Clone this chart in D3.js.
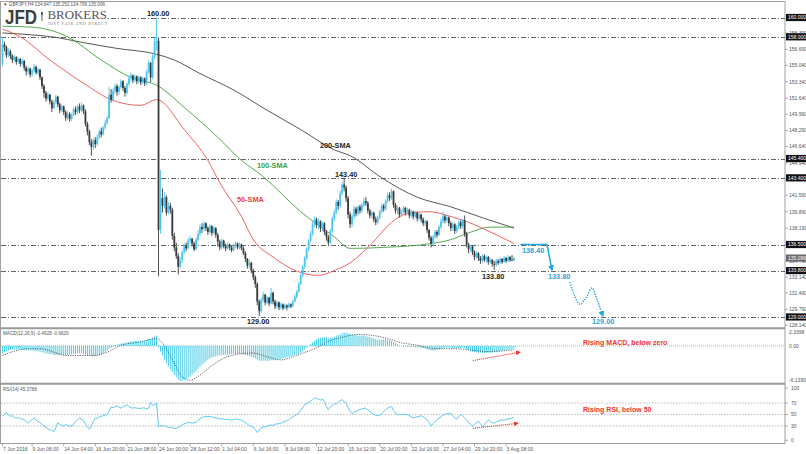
<!DOCTYPE html>
<html><head><meta charset="utf-8">
<script src="https://cdn.jsdelivr.net/npm/d3@7"></script>
<style>body{margin:0;background:#fff;} svg{display:block;font-family:"Liberation Sans",Arial,sans-serif;}</style>
</head><body><svg id="c" width="806" height="454"></svg>
<script>
// ---------- DATA ----------
const symbolHeader = "\u25BC GBPJPY,H4  134.847 135.252 134.799 135.096";
const firstOpen = 155.2;
const closes = [
157.2,156.9,156.1,156.5,156.0,155.6,155.9,155.4,155.7,155.2,
155.5,154.8,154.4,154.7,154.1,154.5,154.9,154.3,154.6,153.8,
152.9,152.2,151.6,152.0,151.3,150.6,151.2,151.8,151.0,150.4,
150.8,150.2,149.6,150.0,149.5,149.9,150.5,150.2,150.8,150.4,
150.9,150.3,149.0,148.2,147.1,146.6,147.3,146.9,147.6,148.2,
147.9,148.6,149.1,149.6,152.0,151.5,152.4,152.9,152.3,152.8,
153.4,152.7,152.2,153.1,153.7,154.0,153.5,153.9,153.4,153.8,
153.3,153.7,153.2,154.4,155.3,153.8,155.9,157.5,157.6,138.0,
141.3,140.5,141.4,139.8,140.5,140.1,137.4,136.2,135.3,134.2,
134.9,135.7,136.4,136.1,136.9,137.1,136.6,136.0,137.0,137.6,
138.3,138.1,138.7,138.2,137.8,138.4,137.7,138.2,137.5,136.8,
136.2,136.9,136.4,136.1,136.5,136.2,135.9,136.4,136.6,136.2,
136.5,136.1,135.6,135.0,134.3,134.6,133.8,133.1,132.4,130.6,
129.6,130.8,131.3,130.5,131.0,130.4,131.5,130.6,130.1,130.5,
130.0,130.3,129.9,130.2,130.0,130.3,130.1,130.6,131.1,131.6,
132.4,133.3,134.2,135.1,136.0,136.9,137.6,138.6,139.1,138.5,
138.9,138.2,138.7,137.8,137.3,136.7,137.9,139.2,139.8,140.9,
140.5,141.8,142.7,142.4,141.3,139.6,138.6,139.4,140.2,139.7,
140.4,140.0,140.6,141.0,140.8,140.0,139.5,139.8,139.1,138.8,
139.3,139.9,140.5,140.2,141.0,141.6,141.3,142.0,140.6,140.0,
140.3,139.6,139.9,140.3,139.8,140.1,139.5,139.9,139.4,139.8,
139.2,139.6,139.1,138.7,138.9,138.0,137.2,136.6,137.3,137.8,
137.5,138.3,138.9,139.4,139.0,139.3,138.7,138.2,138.6,137.9,
138.3,138.8,138.4,139.0,137.6,136.5,136.0,136.3,135.7,135.2,
135.6,135.1,134.8,135.3,134.9,135.2,134.7,134.9,134.5,134.4,
134.8,134.6,135.0,134.7,135.1,134.8,135.2,134.9,134.85,135.1];
const highs = [
158.0,157.5,157.1,156.8,156.7,156.2,156.1,156.0,155.9,155.8,
155.7,155.6,155.0,154.9,154.8,154.7,155.2,155.0,154.8,154.7,
153.9,153.1,152.4,152.3,152.1,151.5,151.5,152.0,151.9,151.2,
151.0,150.9,150.4,150.3,150.2,150.1,150.7,150.8,151.0,151.1,
151.2,151.0,150.5,149.2,148.4,147.4,147.5,147.6,147.9,148.4,
148.6,148.8,149.4,149.8,152.8,152.6,152.7,153.2,153.1,153.0,
153.6,153.5,152.9,153.3,154.0,154.3,154.1,154.1,154.0,154.0,
153.9,153.9,153.8,154.6,155.6,155.4,156.2,158.0,160.0,157.9,
144.2,142.3,141.9,141.6,140.9,140.8,140.3,137.7,136.7,135.6,
135.2,135.9,136.6,136.7,137.2,137.4,137.2,136.8,137.2,138.0,
138.6,138.7,138.9,138.8,138.4,138.6,138.5,138.4,138.3,137.7,
137.0,137.1,137.0,136.6,136.7,136.6,136.4,136.6,136.8,136.7,
136.7,136.6,136.3,135.8,135.1,134.9,134.7,134.0,133.3,132.6,
130.8,131.0,131.6,131.4,131.2,131.1,132.0,131.6,130.8,130.7,
130.6,130.5,130.4,130.4,130.3,130.5,130.4,130.8,131.3,131.8,
132.6,133.5,134.4,135.3,136.2,137.1,137.9,138.9,139.4,139.3,
139.2,139.0,138.9,138.8,138.0,137.5,138.1,139.4,140.1,141.2,
141.1,142.1,143.0,143.4,142.6,141.5,139.9,139.7,140.5,140.4,
140.6,140.6,140.8,141.3,141.4,141.0,140.2,140.0,139.9,139.4,
139.5,140.1,140.8,140.7,141.2,141.9,141.9,142.3,142.1,140.8,
140.5,140.4,140.1,140.5,140.4,140.3,140.2,140.1,140.0,140.0,
139.9,139.8,139.7,139.3,139.1,139.0,138.1,137.4,137.5,138.0,
138.0,138.5,139.2,139.9,139.6,139.5,139.4,138.9,138.8,138.7,
138.5,139.0,139.0,139.2,139.5,137.8,136.7,136.5,136.4,135.9,
135.8,135.7,135.3,135.5,135.5,135.4,135.3,135.1,135.0,134.8,
135.0,135.0,135.2,135.1,135.3,135.2,135.4,135.3,135.4,135.25];
const lows = [
154.9,156.5,155.8,155.9,155.7,155.3,155.4,155.1,155.2,154.9,
155.0,154.5,154.0,154.1,153.8,153.9,154.3,154.1,154.0,153.5,
152.6,151.7,151.3,151.4,151.0,150.2,150.5,151.0,150.7,150.1,
150.2,149.9,149.3,149.4,149.2,149.3,149.8,149.9,150.0,150.1,
150.2,150.0,148.7,147.8,146.8,145.7,146.3,146.5,146.7,147.4,
147.6,147.8,148.4,148.9,149.5,151.2,151.3,152.1,151.9,152.0,
152.6,152.4,151.8,152.0,152.9,153.4,153.2,153.3,153.1,153.2,
153.0,153.1,152.9,153.0,154.2,153.3,153.6,155.7,156.6,133.2,
137.6,139.8,140.2,139.5,139.6,139.7,137.0,135.8,135.0,133.4,
134.0,134.6,135.5,135.8,136.0,136.6,136.3,135.8,135.9,136.8,
137.4,137.7,137.9,137.9,137.5,137.6,137.4,137.5,137.2,136.3,
135.9,136.0,136.1,135.8,136.0,135.9,135.7,135.8,136.1,136.0,
136.0,135.9,135.4,134.7,134.0,134.0,133.5,132.8,132.0,130.2,
129.1,129.4,130.5,130.2,130.3,130.1,130.3,130.3,129.8,129.9,
129.7,129.8,129.7,129.8,129.7,129.9,129.9,130.0,130.5,130.9,
131.5,132.3,133.1,134.0,134.9,135.8,136.7,137.4,138.3,138.2,
138.1,137.8,137.9,137.5,136.9,136.4,136.5,137.7,138.9,139.6,
140.1,140.3,141.6,142.0,140.9,139.2,138.2,138.3,139.1,139.4,
139.5,139.7,139.8,140.4,140.5,139.7,139.2,139.2,138.8,138.5,
138.6,139.1,139.7,139.9,140.0,140.8,141.0,141.1,140.3,139.7,
139.6,139.3,139.4,139.7,139.5,139.6,139.2,139.3,139.1,139.2,
138.9,139.0,138.8,138.4,138.4,137.7,136.9,136.2,136.4,137.1,
137.2,137.4,138.1,138.7,138.7,138.8,138.4,137.9,137.9,137.6,
137.7,138.1,138.1,138.2,137.3,136.2,135.6,135.7,135.4,134.9,
135.0,134.8,134.5,134.6,134.7,134.6,134.4,134.5,134.2,133.85,
134.2,134.4,134.5,134.5,134.6,134.6,134.7,134.7,134.8,134.8];

// Moving averages (bar index, price)
const sma200Idx = [0,15,25,41,58,78,87,100,117,134,151,168,176,192,210,227,244,259];
const sma200Val = [158.4,158.2,158.0,157.4,156.8,156.2,155.6,154.2,152.5,150.4,148.4,146.3,145.7,143.4,141.4,140.4,139.2,138.2];
const sma100Idx = [0,15,33,50,66,78,92,109,121,131,151,168,176,193,217,227,236,247,259];
const sma100Val = [159.1,159.0,158.0,155.6,153.7,153.0,150.7,147.6,145.2,143.7,139.9,137.3,136.1,136.2,136.6,137.0,137.7,138.3,138.3];
const sma50Idx = [0,9,24,41,55,70,78,92,104,110,121,127,137,151,160,168,176,187,197,205,216,227,236,248,259];
const sma50Val = [158.8,158.0,155.6,153.2,151.5,150.9,151.5,148.4,145.2,142.9,139.4,137.0,135.2,133.6,133.3,133.8,134.6,136.6,138.8,139.7,139.9,139.4,138.8,137.7,136.6];

// MACD(12,26,9) main per bar and signal samples
const macdMain = [
-1.3,-1.1,-0.9,-0.8,-0.7,-0.7,-0.6,-0.6,-0.6,-0.6,
-0.7,-0.7,-0.8,-0.8,-0.8,-0.8,-0.8,-0.9,-0.9,-1.0,
-1.1,-1.2,-1.3,-1.4,-1.4,-1.5,-1.6,-1.6,-1.6,-1.6,
-1.6,-1.6,-1.6,-1.6,-1.5,-1.5,-1.4,-1.4,-1.3,-1.3,
-1.3,-1.4,-1.5,-1.6,-1.7,-1.8,-1.8,-1.8,-1.7,-1.6,
-1.5,-1.3,-1.1,-0.9,-0.5,-0.3,-0.1,0.1,0.2,0.3,
0.4,0.5,0.5,0.6,0.7,0.8,0.8,0.9,0.9,0.9,
0.9,0.9,0.9,1.0,1.2,1.2,1.4,1.6,1.8,-0.3,
-1.0,-1.7,-2.4,-3.0,-3.6,-4.1,-4.6,-5.1,-5.5,-5.9,
-6.1,-6.1,-6.0,-5.8,-5.6,-5.3,-5.0,-4.7,-4.4,-4.0,
-3.6,-3.3,-3.0,-2.7,-2.4,-2.2,-2.0,-1.9,-1.8,-1.7,
-1.7,-1.6,-1.6,-1.5,-1.5,-1.5,-1.4,-1.4,-1.4,-1.4,
-1.4,-1.4,-1.5,-1.6,-1.7,-1.8,-1.9,-2.0,-2.2,-2.4,
-2.6,-2.6,-2.6,-2.6,-2.6,-2.6,-2.5,-2.5,-2.5,-2.4,
-2.4,-2.3,-2.2,-2.1,-2.0,-1.9,-1.8,-1.7,-1.6,-1.5,
-1.4,-1.2,-0.9,-0.6,-0.3,0.0,0.3,0.6,0.9,1.1,
1.3,1.4,1.5,1.5,1.5,1.4,1.4,1.5,1.6,1.8,
1.9,2.0,2.2,2.3,2.3,2.2,2.1,2.0,1.9,1.9,
1.8,1.8,1.8,1.8,1.7,1.6,1.5,1.4,1.3,1.2,
1.1,1.1,1.1,1.1,1.2,1.1,1.0,0.9,0.7,0.5,
0.3,0.1,0.0,-0.1,-0.1,-0.2,-0.2,-0.2,-0.2,-0.3,
-0.3,-0.3,-0.4,-0.4,-0.5,-0.6,-0.7,-0.8,-0.8,-0.8,
-0.7,-0.6,-0.5,-0.4,-0.3,-0.3,-0.3,-0.3,-0.4,-0.4,
-0.4,-0.4,-0.4,-0.3,-0.4,-0.6,-0.8,-0.9,-1.0,-1.1,
-1.1,-1.2,-1.2,-1.2,-1.2,-1.2,-1.2,-1.2,-1.2,-1.1,
-1.1,-1.0,-0.9,-0.8,-0.8,-0.7,-0.7,-0.6,-0.55,-0.49];
const signalIdx = [0,13,19,33,46,53,60,70,78,81,86,91,95,100,107,114,120,127,134,141,147,151,158,165,172,180,188,195,202,210,218,229,236,244,252,259];
const signalVal = [-1.68,-0.5,-0.5,-1.68,-1.68,-1.1,0.1,0.7,1.3,0.5,-2.4,-5.4,-6.0,-5.1,-3.2,-1.9,-1.4,-1.25,-1.9,-2.45,-1.9,-1.4,-0.5,0.8,1.5,2.0,1.8,1.3,0.55,0.12,-0.45,-0.5,-0.66,-1.0,-0.9,-0.66];
const macdTop = 2.3398, macdBottom = -6.1390;

// RSI(14) per bar
const rsi = [
46.8,50,53.8,49,47,48,45,44,45,43,
42,41,38,35,38,41,44,41,38,36,
33,30,28,25,24,22,20.5,27,36,33,
31,30,33,31,30,30,34,38,41,44,
42,40,33,28,24.6,30,38,44,43,46,
47,48,49,50,56,63,62,64,65.5,63,
61,63,65,67,64,62,61,62,61,61,
60,62,61,60,61,71,66,67,70,29,
31,30,31,29,28,28,27,26,26,28,
30,32,34,35,36,36,35,36,36,40,
43,45,46,47,46,47,46,45,44,44,
42,43,42,41,42,41,40,41,42,42,
41,40,38,36,33,31,30,28,24,18.7,
22,27,29,29,30,31,32,31,33,34,
34,35,37,38,39,41,44,46,48,50,
52.6,57,62,67,69,71,73,76,79,78,
77,75,77,73,64,58.5,63,66,69,68,
72,74,76,73,70,62,56,51.5,54,56,
57,58.5,60,61,61,58,55,52.6,50,49,
48,48,52,55,58.5,61,63,64,57,52,
49.7,50,50,51,50,49.7,48,46,44,45,
46,47,48,46,43,41,36,30,34,38,
41,44,46,49,50,52,51,52.6,48,44,
42,46,50,48,44,41,36,33,30,33,
36,38,34,29,33,37,40,38,36,35,
37,39,40,41,40,42,42,43,44,45.4];
const rsiLevels = [70,50,30];

// Axis content
const timeLabels = ["7 Jun 2016","9 Jun 06:00","14 Jun 04:00","16 Jun 20:00","21 Jun 08:00","24 Jun 00:00","28 Jun 12:00","1 Jul 04:00","6 Jul 16:00","8 Jul 08:00","12 Jul 20:00","15 Jul 12:00","20 Jul 00:00","22 Jul 16:00","27 Jul 04:00","29 Jul 20:00","3 Aug 08:00"];
const timeLabelIdx = [0,15,31,47,63,79,95,111,127,143,159,175,191,207,223,239,255];
const priceTicks = [128.14,129.79,131.49,133.14,134.79,136.49,138.19,139.89,141.59,143.24,144.94,146.64,148.29,149.99,151.64,153.34,155.04,156.69,158.39];
const levelLines = [160,158,145.4,143.4,136.5,133.8,129];
const currentPrice = 135.096;

// Annotations (bar index, price)
const projSolid = [[262.3,136.5],[275.7,136.5],[278.2,133.85]];
const projDotted = [[287.3,132.6],[289.5,131.3],[292.4,130.3],[295.5,131.0],[298.5,132.0],[301,130.8],[304,129.1]];
const macdArrow = [[238.2,-2.57],[262,-1.1]];
const rsiArrow = [[238.2,26.1],[261,34.8]];

// ---------- DRAW ----------
const svg = d3.select("#c");
const N = closes.length;
const opens = closes.map((c,i)=> i===0 ? firstOpen : closes[i-1]);

const PR = 785; // plot right
const x = d3.scaleLinear().domain([0, 259]).range([2.5, 514]);
const y = d3.scaleLinear().domain([127.96, 161.605]).range([327, 2]);
const ym = d3.scaleLinear().domain([macdBottom, macdTop]).range([381, 332.5]);
const yr = d3.scaleLinear().domain([0, 100]).range([443.3, 385.8]);

const cyan = "#4cc4ee", dark = "#3a3a3a", proj = "#1ea8e0", red = "#ee3333";

// frame
svg.append("rect").attr("x",0.5).attr("y",1.5).attr("width",PR-0.5).attr("height",442).attr("fill","none").attr("stroke","#a0a0a0").attr("stroke-width",1);
[328.3, 383.8].forEach(v=> svg.append("line").attr("x1",0).attr("x2",PR).attr("y1",v).attr("y2",v).attr("stroke","#9a9a9a").attr("stroke-width",2));

// horizontal level lines (dash-dot)
svg.append("g").selectAll("line").data(levelLines).join("line")
  .attr("x1",1).attr("x2",PR).attr("y1",d=>Math.round(y(d))+0.5).attr("y2",d=>Math.round(y(d))+0.5)
  .attr("stroke","#555").attr("stroke-width",0.9).attr("stroke-dasharray","5,2,1,2");

// white logo backdrop (hides the 160 line behind the logo)
svg.append("rect").attr("x",1).attr("y",8).attr("width",107).attr("height",16.5).attr("fill","#fff");

// SMAs
const lineGen = (xs, vals, ysc) => d3.line().curve(d3.curveMonotoneX).x((d,i)=>x(xs[i])).y(d=>ysc(d))(vals);
svg.append("path").attr("d",lineGen(sma200Idx,sma200Val,y)).attr("fill","none").attr("stroke","#444").attr("stroke-width",0.9);
svg.append("path").attr("d",lineGen(sma100Idx,sma100Val,y)).attr("fill","none").attr("stroke","#3f9f3f").attr("stroke-width",0.9);
svg.append("path").attr("d",lineGen(sma50Idx,sma50Val,y)).attr("fill","none").attr("stroke","#f05050").attr("stroke-width",0.9);

// candles
const cg = svg.append("g");
d3.range(N).forEach(i=>{
  const o=opens[i], c=closes[i];
  const h=Math.max(highs[i],o,c), l=Math.min(lows[i],o,c);
  const col = c>=o ? cyan : dark;
  const cx = x(i);
  cg.append("line").attr("x1",cx).attr("x2",cx).attr("y1",y(h)).attr("y2",y(l)).attr("stroke",col).attr("stroke-width",0.9);
  const top=y(Math.max(o,c)), bot=y(Math.min(o,c));
  cg.append("rect").attr("x",cx-0.9).attr("width",1.8).attr("y",top).attr("height",Math.max(0.8,bot-top)).attr("fill",col);
});

// MACD
svg.append("line").attr("x1",1).attr("x2",PR).attr("y1",ym(0)).attr("y2",ym(0)).attr("stroke","#5fd3ea").attr("stroke-width",1).attr("stroke-dasharray","1,1");
svg.append("g").selectAll("line").data(macdMain).join("line")
  .attr("x1",(d,i)=>x(i)).attr("x2",(d,i)=>x(i)).attr("y1",ym(0)).attr("y2",d=>ym(d))
  .attr("stroke","#48cde6").attr("stroke-width",1);
svg.append("path").attr("d",lineGen(signalIdx,signalVal,ym)).attr("fill","none").attr("stroke","#555").attr("stroke-width",0.9).attr("stroke-dasharray","1.2,1.2");

// RSI
svg.append("g").selectAll("line").data(rsiLevels).join("line")
  .attr("x1",1).attr("x2",PR).attr("y1",d=>yr(d)).attr("y2",d=>yr(d))
  .attr("stroke","#aaa").attr("stroke-width",0.8).attr("stroke-dasharray","1.5,1.5");
svg.append("path").attr("d",d3.line().x((d,i)=>x(i)).y(d=>yr(d))(rsi)).attr("fill","none").attr("stroke","#5cc8f2").attr("stroke-width",1);

// right axis ticks & labels
const axG = svg.append("g").attr("font-size",5).attr("fill","#555");
priceTicks.forEach(p=>{
  axG.append("line").attr("x1",PR).attr("x2",PR+3).attr("y1",y(p)).attr("y2",y(p)).attr("stroke","#777").attr("stroke-width",0.6);
  axG.append("text").attr("x",PR+4).attr("y",y(p)+1.8).text(p.toFixed(3));
});
// MACD / RSI axis labels
[[macdTop,"2.3398",332.5],[0,"0.00",ym(0)],[macdBottom,"-6.1390",380.5]].forEach(([v,t,yy])=>{
  axG.append("text").attr("x",PR+4).attr("y",yy+1.8).text(t);
});
[[100,"100",388],[70,"70",yr(70)],[50,"50",yr(50)],[30,"30",yr(30)],[0,"0",440.3]].forEach(([v,t,yy])=>{
  axG.append("line").attr("x1",PR).attr("x2",PR+3).attr("y1",yy).attr("y2",yy).attr("stroke","#777").attr("stroke-width",0.6);
  axG.append("text").attr("x",PR+6).attr("y",yy+1.8).text(t);
});
// level boxes
const boxG = svg.append("g").attr("font-size",5);
levelLines.forEach(p=>{
  const yy=y(p);
  boxG.append("rect").attr("x",PR+1).attr("y",yy-3.6).attr("width",20).attr("height",7.2).attr("fill","#111");
  boxG.append("text").attr("x",PR+3).attr("y",yy+1.8).attr("fill","#fff").text(p.toFixed(3));
});
boxG.append("rect").attr("x",PR+1).attr("y",y(currentPrice)-3.6).attr("width",20).attr("height",7.2).attr("fill","#6a6a6a");
boxG.append("text").attr("x",PR+3).attr("y",y(currentPrice)+1.8).attr("fill","#fff").text(currentPrice.toFixed(3));

// time axis
const tG = svg.append("g").attr("font-size",5).attr("fill","#555");
timeLabels.forEach((t,k)=>{
  const xx = x(timeLabelIdx[k]);
  tG.append("line").attr("x1",xx).attr("x2",xx).attr("y1",443.5).attr("y2",446.5).attr("stroke","#777").attr("stroke-width",0.6);
  tG.append("text").attr("x",xx+0.5).attr("y",450.5).text(t);
});

// headers
svg.append("text").attr("x",3).attr("y",6.3).attr("font-size",4.6).attr("fill","#555").text(symbolHeader);
svg.append("text").attr("x",3).attr("y",335).attr("font-size",4.6).attr("fill","#555").text("MACD(12,26,9) -0.4928 -0.6629");
svg.append("text").attr("x",3).attr("y",390.5).attr("font-size",4.6).attr("fill","#555").text("RSI(14) 45.3788");

// logo
svg.append("text").attr("x",5).attr("y",24).attr("font-size",21).attr("font-weight","bold").attr("fill","#3d3d3d")
  .attr("textLength",32).attr("lengthAdjust","spacingAndGlyphs").text("JFD");
svg.append("rect").attr("x",41.3).attr("y",12).attr("width",1.3).attr("height",9).attr("fill","#888");
svg.append("rect").attr("x",41.3).attr("y",12).attr("width",1.3).attr("height",3).attr("fill","#333");
svg.append("text").attr("x",47.5).attr("y",19.3).attr("font-size",13.5).attr("font-family","Liberation Serif, serif").attr("fill","#555")
  .attr("textLength",59.5).attr("lengthAdjust","spacingAndGlyphs").text("BROKERS");
svg.append("text").attr("x",47.5).attr("y",25).attr("font-size",3.8).attr("font-family","Liberation Serif, serif").attr("fill","#666")
  .attr("textLength",59.5).attr("lengthAdjust","spacing").text("JUST FAIR AND DIRECT");

// annotations
const ann = svg.append("g").attr("font-weight","bold").attr("font-size",7.3);
ann.append("text").attr("x",147).attr("y",16).attr("fill","#222").text("160.00");
ann.append("text").attr("x",335).attr("y",176.5).attr("fill","#222").text("143.40");
ann.append("text").attr("x",320).attr("y",147.5).attr("fill","#222").text("200-SMA");
ann.append("text").attr("x",257).attr("y",168).attr("fill","#3f9f3f").text("100-SMA");
ann.append("text").attr("x",237).attr("y",202).attr("fill","#ee4040").text("50-SMA");
ann.append("text").attr("x",247).attr("y",324).attr("fill","#222").text("129.00");
ann.append("text").attr("x",482).attr("y",279).attr("fill","#222").text("133.80");
ann.append("text").attr("x",522).attr("y",253).attr("fill",proj).text("136.40");
ann.append("text").attr("x",548).attr("y",279).attr("fill",proj).text("133.80");
ann.append("text").attr("x",592).attr("y",324).attr("fill",proj).text("129.00");
ann.append("text").attr("x",583).attr("y",344.5).attr("fill",red).attr("font-size",7).text("Rising MACD, below zero");
ann.append("text").attr("x",583).attr("y",411.5).attr("fill",red).attr("font-size",7).text("Rising RSI, below 50");

// arrow markers
const defs = svg.append("defs");
function marker(id,color){
  defs.append("marker").attr("id",id).attr("viewBox","0 0 10 10").attr("refX",8).attr("refY",5)
    .attr("markerWidth",4).attr("markerHeight",4).attr("orient","auto-start-reverse").attr("markerUnits","strokeWidth")
    .append("path").attr("d","M0,0L10,5L0,10z").attr("fill",color);
}
marker("ac",proj); marker("ar",red);
const pLine = d3.line().x(d=>x(d[0])).y(d=>y(d[1]));
svg.append("path").attr("d",pLine(projSolid)).attr("fill","none").attr("stroke",proj).attr("stroke-width",1.5).attr("marker-end","url(#ac)");
svg.append("path").attr("d",d3.line().curve(d3.curveCatmullRom).x(d=>x(d[0])).y(d=>y(d[1]))(projDotted)).attr("fill","none").attr("stroke",proj).attr("stroke-width",1.5).attr("stroke-dasharray","1.3,1.3").attr("marker-end","url(#ac)");
svg.append("path").attr("d",d3.line().x(d=>x(d[0])).y(d=>ym(d[1]))(macdArrow)).attr("fill","none").attr("stroke",red).attr("stroke-width",1.2).attr("stroke-dasharray","1,1").attr("marker-end","url(#ar)");
svg.append("path").attr("d",d3.line().x(d=>x(d[0])).y(d=>yr(d[1]))(rsiArrow)).attr("fill","none").attr("stroke",red).attr("stroke-width",1.2).attr("stroke-dasharray","1,1").attr("marker-end","url(#ar)");
</script></body></html>
